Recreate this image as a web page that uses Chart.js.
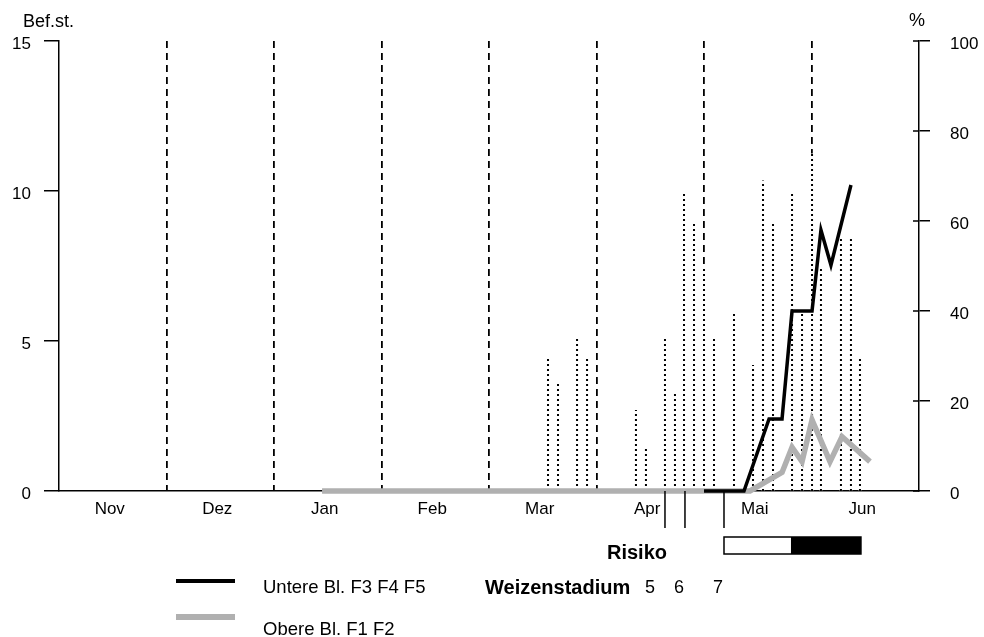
<!DOCTYPE html>
<html>
<head>
<meta charset="utf-8">
<script src="https://cdn.jsdelivr.net/npm/chart.js@4"></script>
<style>
  html, body { margin: 0; padding: 0; background: #fff; }
  #wrap { position: relative; width: 984px; height: 637px; font-family: "Liberation Sans", Arial, sans-serif; color: #000; }
  #wrap canvas { position: absolute; left: 0; top: 0; }
  .t { position: absolute; white-space: nowrap; line-height: 20px; }
  .b { font-weight: bold; font-size: 20px; line-height: 24px; }
  .lg { position: absolute; left: 176px; width: 59px; }
</style>
</head>
<body>
<div id="wrap">
  <canvas id="c" width="984" height="637"></canvas>
  <div class="t" style="left:23px; top:11px; font-size:18px;">Bef.st.</div>
  <div class="t" style="left:909px; top:10px; font-size:18px;">%</div>
  <div class="t b" style="left:607px; top:540px;">Risiko</div>
  <div class="t b" style="left:485px; top:575px;">Weizenstadium</div>
  <div id="stages"></div>
  <div class="lg" style="top:579px; height:4px; background:#000;"></div>
  <div class="lg" style="top:614px; height:6px; background:#b0b0b0;"></div>
  <div class="t" style="left:263px; top:577px; font-size:18.5px;">Untere Bl. F3 F4 F5</div>
  <div class="t" style="left:263px; top:619px; font-size:18.5px;">Obere Bl. F1 F2</div>
</div>
<script>
// ---- data (x in months since 1 Nov) ----
const months = ['Nov', 'Dez', 'Jan', 'Feb', 'Mar', 'Apr', 'Mai', 'Jun'];
const leftTicks = [0, 5, 10, 15];
const rightTicks = [0, 20, 40, 60, 80, 100];

const barX   = [4.549, 4.642, 4.819, 4.912, 5.367, 5.460, 5.637, 5.730, 5.814, 5.907, 6.000, 6.093,
                6.279, 6.456, 6.549, 6.642, 6.819, 6.912, 7.005, 7.088, 7.274, 7.367, 7.451];
const barPct = [30, 24, 34, 30, 18, 10, 34, 22, 66, 60, 50, 34,
                40, 28, 69, 60, 66, 40, 75, 50, 56, 56, 30];

const untereX = [6.000, 6.372, 6.605, 6.726, 6.819, 7.005, 7.088, 7.181, 7.367];
const untereY = [0, 0, 2.4, 2.4, 6.0, 6.0, 8.7, 7.53, 10.2];

const obereX = [2.447, 6.428, 6.726, 6.819, 6.912, 7.005, 7.172, 7.284, 7.544];
const obereY = [0, 0, 0.62, 1.46, 0.98, 2.37, 0.98, 1.81, 0.98];

const stageX = [5.637, 5.823, 6.186];
const stageLabels = ['5', '6', '7'];
const stageLabelLeft = [645, 674, 713];

const riskX = [6.186, 6.809, 7.460]; // start, change low->high, end

// ---- build ----
const barData = [];
barX.forEach((x, i) => { barData.push({x, y: 0}, {x, y: barPct[i]}, {x, y: null}); });
const untereData = untereX.map((x, i) => ({x, y: untereY[i]}));
const obereData = obereX.map((x, i) => ({x, y: obereY[i]}));
const monthCenters = months.map((m, i) => i + 0.5);
const monthBounds = months.slice(1).map((m, i) => i + 1);

const st = document.getElementById('stages');
stageLabels.forEach((s, i) => {
  const d = document.createElement('div');
  d.className = 't';
  d.style.cssText = 'left:' + stageLabelLeft[i] + 'px; top:577px; font-size:18px;';
  d.textContent = s;
  st.appendChild(d);
});

const FONT = {family: '"Liberation Sans", Arial, sans-serif', size: 17};

const extras = {
  id: 'extras',
  afterDraw(chart) {
    const ctx = chart.ctx, xs = chart.scales.x, ys2 = chart.scales.y2, ca = chart.chartArea;
    ctx.save();
    ctx.strokeStyle = '#000';
    ctx.lineWidth = 1.5;
    // inner part of right ticks
    rightTicks.forEach(v => {
      const y = ys2.getPixelForValue(v);
      ctx.beginPath(); ctx.moveTo(ca.right - 6, y); ctx.lineTo(ca.right, y); ctx.stroke();
    });
    // wheat stage markers
    stageX.forEach(v => {
      const x = xs.getPixelForValue(v);
      ctx.beginPath(); ctx.moveTo(x, ca.bottom); ctx.lineTo(x, ca.bottom + 37); ctx.stroke();
    });
    // risk bar
    const x0 = xs.getPixelForValue(riskX[0]), x1 = xs.getPixelForValue(riskX[1]), x2 = xs.getPixelForValue(riskX[2]);
    const y0 = ca.bottom + 46, h = 17;
    ctx.fillStyle = '#fff'; ctx.fillRect(x0, y0, x1 - x0, h);
    ctx.fillStyle = '#000'; ctx.fillRect(x1, y0, x2 - x1, h);
    ctx.strokeRect(x0, y0, x2 - x0, h);
    ctx.restore();
  }
};

new Chart(document.getElementById('c'), {
  type: 'line',
  data: {
    datasets: [
      {data: untereData, xAxisID: 'x', yAxisID: 'y', borderColor: '#000', borderWidth: 3.5, pointRadius: 0, tension: 0, borderJoinStyle: 'miter', borderCapStyle: 'butt', fill: false, clip: false},
      {data: obereData, xAxisID: 'x', yAxisID: 'y', borderColor: '#b0b0b0', borderWidth: 5.5, pointRadius: 0, tension: 0, borderJoinStyle: 'miter', borderCapStyle: 'butt', fill: false, clip: false},
      {data: barData, xAxisID: 'x', yAxisID: 'y2', borderColor: '#000', borderWidth: 2, borderDash: [2, 3], pointRadius: 0, tension: 0, spanGaps: false, borderCapStyle: 'butt', fill: false},
      {data: barData, xAxisID: 'x', yAxisID: 'y2', borderColor: '#fff', borderWidth: 2.5, pointRadius: 0, tension: 0, spanGaps: false, borderCapStyle: 'butt', fill: false}
    ]
  },
  options: {
    responsive: false,
    animation: false,
    events: [],
    layout: {padding: {top: 41, left: 0, right: 0, bottom: 0}},
    plugins: {legend: {display: false}, tooltip: {enabled: false}},
    scales: {
      x: {
        type: 'linear', position: 'bottom', min: 0, max: 8,
        afterBuildTicks: s => { s.ticks = monthCenters.map(v => ({value: v})); },
        afterFit: s => { s.height = 146; },
        ticks: {autoSkip: false, maxRotation: 0, font: FONT, color: '#000', padding: 8, labelOffset: -3,
                callback: (v, i) => months[i]},
        grid: {display: false, drawTicks: false, tickLength: 0},
        border: {display: true, color: '#000', width: 1.5}
      },
      xm: {
        type: 'linear', position: 'bottom', min: 0, max: 8,
        afterBuildTicks: s => { s.ticks = monthBounds.map(v => ({value: v})); },
        afterFit: s => { s.height = 0; },
        ticks: {display: false},
        grid: {display: true, drawTicks: false, tickLength: 0, color: '#000', lineWidth: 1.8},
        border: {display: false, dash: [7, 5]}
      },
      y: {
        type: 'linear', position: 'left', min: 0, max: 15,
        afterBuildTicks: s => { s.ticks = leftTicks.map(v => ({value: v})); },
        afterFit: s => { s.width = 59; },
        ticks: {font: FONT, color: '#000', padding: 13, labelOffset: 3},
        grid: {drawOnChartArea: false, drawTicks: true, tickLength: 15, color: '#000', lineWidth: 1.5},
        border: {display: true, color: '#000', width: 1.5}
      },
      y2: {
        type: 'linear', position: 'right', min: 0, max: 100,
        afterBuildTicks: s => { s.ticks = rightTicks.map(v => ({value: v})); },
        afterFit: s => { s.width = 65; },
        ticks: {font: FONT, color: '#000', padding: 20, labelOffset: 3},
        grid: {drawOnChartArea: false, drawTicks: true, tickLength: 11, color: '#000', lineWidth: 1.5},
        border: {display: true, color: '#000', width: 1.5}
      }
    }
  },
  plugins: [extras]
});
</script>
</body>
</html>
